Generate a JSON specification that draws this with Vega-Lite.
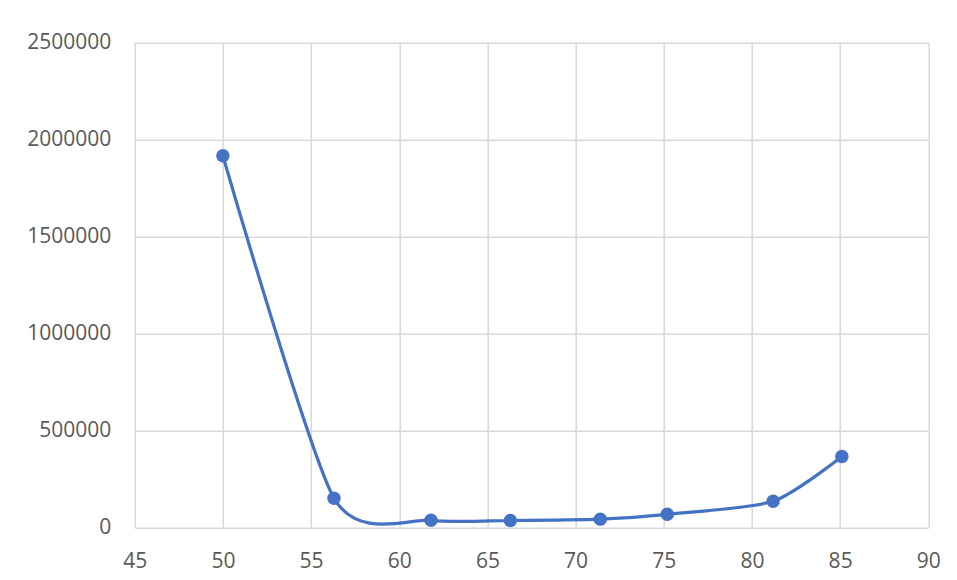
{
  "$schema": "https://vega.github.io/schema/vega-lite/v6.json",
  "width": 793.6,
  "height": 484.6,
  "autosize": {"type": "none"},
  "padding": {"left": 134.7, "top": 42.7, "right": 28.7, "bottom": 52.7},
  "background": "white",
  "data": {"values": [
    {"x": 50.0, "y": 1917000},
    {"x": 56.3, "y": 150000},
    {"x": 61.8, "y": 36000},
    {"x": 66.3, "y": 35000},
    {"x": 71.4, "y": 42000},
    {"x": 75.2, "y": 67000},
    {"x": 81.2, "y": 134000},
    {"x": 85.1, "y": 365000}
  ]},
  "encoding": {
    "x": {"field": "x", "type": "quantitative",
      "scale": {"domain": [45, 90], "nice": false, "zero": false},
      "axis": {"values": [45,50,55,60,65,70,75,80,85,90], "title": null, "format": "d", "labelFlush": false}},
    "y": {"field": "y", "type": "quantitative",
      "scale": {"domain": [0, 2500000], "nice": false},
      "axis": {"values": [0,500000,1000000,1500000,2000000,2500000], "title": null, "format": "d"}}
  },
  "layer": [
    {"mark": {"type": "line", "interpolate": "cardinal", "tension": 0.3, "color": "#4472C4", "strokeWidth": 3.2}},
    {"mark": {"type": "point", "filled": true, "opacity": 1, "color": "#4472C4", "size": 180}}
  ],
  "config": {
    "view": {"stroke": null},
    "axis": {
      "domain": false, "ticks": false,
      "grid": true, "gridColor": "#d9d9d9", "gridWidth": 1.5,
      "labelFont": "Open Sans", "labelFontSize": 21, "labelColor": "#595959"
    },
    "axisX": {"labelPadding": 23},
    "axisY": {"labelPadding": 24}
  }
}
